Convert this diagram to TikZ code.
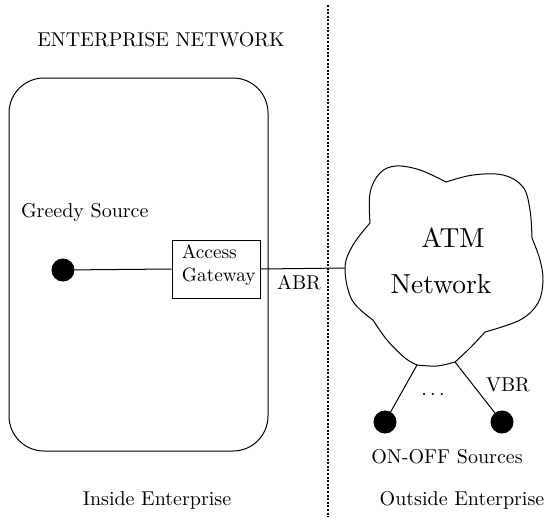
\documentclass[tikz,border=0pt]{standalone}
\begin{document}
\begin{tikzpicture}[x=1pt,y=-1pt,line width=1pt,
  lbl/.style={inner sep=0pt,font=\fontsize{10}{12}\selectfont,scale=2},
  big/.style={inner sep=0pt,font=\fontsize{10}{12}\selectfont,scale=2.75},
  src/.style={circle,fill=black,draw=black,minimum size=22pt,inner sep=0pt},
  gate/.style={draw,minimum width=88pt,minimum height=58pt,inner sep=0pt},
  gatetext/.style={inner sep=0pt,align=left,font=\fontsize{10}{12.3}\selectfont,scale=1.93},
  wire/.style={draw,line width=1pt}]
\useasboundingbox (0,0) rectangle (549,517);

% enterprise boundary
\draw[rounded corners=35pt] (9,78) rectangle (268,451);
\node[lbl] (title) at (161,40) {ENTERPRISE NETWORK};

% divider between inside and outside
\coordinate (divtop) at (328,5);
\coordinate (divbot) at (328,517);
\draw[line width=2pt,dash pattern=on 2pt off 1.6pt] (divtop) -- (divbot);

% greedy source and gateway
\node[lbl,anchor=west] (greedy) at (20,212) {Greedy Source};
\node[src] (gs) at (63,270) {};
\node[gate] (gw) at (216,269) {};
\node[gatetext,anchor=west] (gwtext) at (181,265) {Access\\Gateway};
\draw[wire] (gs) -- (gw.west);

% ATM cloud: lobes meeting at sharp corners
\draw[line join=round]
  plot[smooth,tension=0.6] coordinates {(370,223) (370,193) (380,173) (396,166) (420,170) (446,182)}
  -- plot[smooth,tension=0.6] coordinates {(446,182) (473,175) (503,175) (523,187) (530,210) (532,238)}
  -- plot[smooth,tension=0.6] coordinates {(532,238) (540,260) (543,281) (538,303) (520,320) (485,332)}
  -- plot[smooth,tension=0.6] coordinates {(485,332) (470,348) (455,362)}
  -- plot[smooth,tension=0.6] coordinates {(455,362) (437,366) (417,365)}
  -- plot[smooth,tension=0.6] coordinates {(417,365) (405,358) (387,340) (373,320)}
  -- plot[smooth,tension=0.6] coordinates {(373,320) (352,300) (345,268) (353,245) (370,223)}
  -- cycle;
\coordinate (cloudW) at (345,268);
\coordinate (cloudS1) at (417,365);
\coordinate (cloudS2) at (455,362);
\node[big] (atm) at (453,238) {ATM};
\node[big] (net) at (441,284) {Network};

\draw[wire] (gw.east) -- (cloudW);
\node[lbl] (abr) at (299,283) {ABR};

% on-off sources
\node[src] (s1) at (385,422) {};
\node[src] (s2) at (502,422) {};
\draw[wire] (cloudS1) -- (s1);
\draw[wire] (cloudS2) -- (s2);
\node[lbl] (dots) at (433,395) {$\cdots$};
\node[lbl] (vbr) at (508,385) {VBR};
\node[lbl] (onoff) at (447,457) {ON-OFF Sources};

% region captions
\node[lbl] (inside) at (157,500) {Inside Enterprise};
\node[lbl] (outside) at (462,500) {Outside Enterprise};
\end{tikzpicture}
\end{document}
